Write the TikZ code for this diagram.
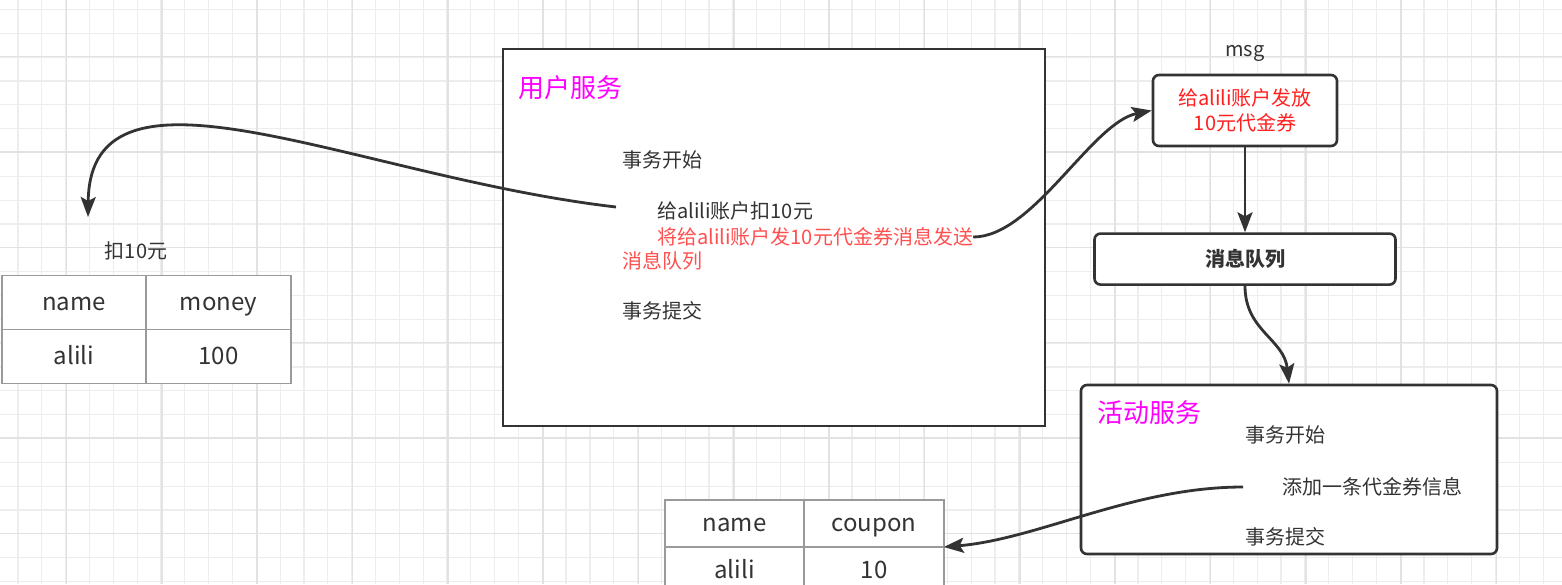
\documentclass[tikz,border=0pt]{standalone}
\usepackage{fontspec}
\setmainfont{Noto Sans CJK SC}
\usepackage{xcolor}
\usetikzlibrary{arrows.meta, positioning}
\definecolor{ink}{HTML}{333333}
\definecolor{gridminor}{HTML}{EDEDED}
\definecolor{gridmajor}{HTML}{E2E2E2}
\definecolor{tblline}{HTML}{9A9A9A}
\definecolor{svcpink}{HTML}{FF00FF}
\definecolor{notered}{HTML}{FF5050}
\definecolor{msgred}{HTML}{FF2020}
\tikzset{
    svcbox/.style={rectangle, draw=ink, line width=2.6pt, fill=white},
    roundbox/.style={rectangle, rounded corners=6pt, draw=ink, line width=2.6pt, fill=white},
    cell/.style={rectangle, draw=tblline, line width=1.8pt, fill=white, outer sep=0pt, inner sep=0pt, minimum width=144.5pt, minimum height=54pt, text height=20pt, text depth=5pt, text=ink, font=\fontsize{24}{28}\selectfont},
    txt/.style={inner sep=0pt, anchor=west, text=ink, font=\fontsize{20}{24}\selectfont},
    title/.style={txt, text=svcpink, font=\fontsize{26}{30}\selectfont},
    arrow/.style={-{Stealth[length=20pt, width=15pt, inset=4pt]}, line width=2.8pt, draw=ink}
}

\begin{document}
\begin{tikzpicture}[x=1pt, y=-1pt]
    \useasboundingbox (0,0) rectangle (1562,584);
    \fill[white] (0,0) rectangle (1562,584);
    % grid
    \foreach \gx in {18,41.83,...,1562} \draw[gridminor, line width=1.2pt] (\gx,0) -- (\gx,584);
    \foreach \gy in {9.5,33.33,...,584} \draw[gridminor, line width=1.2pt] (0,\gy) -- (1562,\gy);
    \foreach \gx in {66.5,161.83,...,1562} \draw[gridmajor, line width=1.4pt] (\gx,0) -- (\gx,584);
    \foreach \gy in {56.7,152.03,...,584} \draw[gridmajor, line width=1.4pt] (0,\gy) -- (1562,\gy);

    % user service
    \node[svcbox, minimum width=542pt, minimum height=377pt] (usersvc) at (774,237.5) {};
    \node[title] (usertitle) at (518,88) {用户服务};
    \node[txt] (ubegin) at (622,160) {事务开始};
    \node[txt] (deduct) at (657,211) {给alili账户扣10元};
    \node[txt, text=notered] (sendmsg) at (657,237) {将给alili账户发10元代金券消息发送};
    \node[txt, text=notered] (sendq) at (622,261) {消息队列};
    \node[txt] (ucommit) at (622,311) {事务提交};
    \coordinate (dstart) at (616,207);

    % money table
    \node[txt, anchor=center] (deductlbl) at (136,251) {扣10元};
    \coordinate (deducttip) at (88,217);
    \node[cell] (mname) at (74,302.5) {name};
    \node[cell, right=0pt of mname] (mmoney) {money};
    \node[cell, below=0pt of mname] (malili) {alili};
    \node[cell, below=0pt of mmoney] (mval) {100};

    % message and queue
    \node[roundbox, minimum width=184pt, minimum height=71pt, align=center, text=msgred, font=\fontsize{20}{25}\selectfont] (msgbox) at (1245,110.5) {给alili账户发放\\10元代金券};
    \node[txt, anchor=center, above=12pt of msgbox] (msglbl) {msg};
    \node[roundbox, minimum width=301pt, minimum height=51pt, text=ink, font=\fontsize{20}{24}\selectfont\bfseries, below=85pt of msgbox] (mq) {消息队列};

    % activity service
    \node[roundbox, minimum width=416pt, minimum height=169pt] (activity) at (1289,469.5) {};
    \node[title] (acttitle) at (1097,413) {活动服务};
    \node[txt] (abegin) at (1245,435) {事务开始};
    \node[txt] (addcoupon) at (1282,487) {添加一条代金券信息};
    \node[txt] (acommit) at (1245,537) {事务提交};
    \coordinate (astart) at (1243,487);

    % coupon table
    \node[cell, minimum width=139.5pt, minimum height=47pt] (cname) at (734.5,523.5) {name};
    \node[cell, minimum width=139.5pt, minimum height=47pt, right=0pt of cname] (ccoupon) {coupon};
    \node[cell, minimum width=139.5pt, minimum height=47pt, below=0pt of cname] (calili) {alili};
    \node[cell, minimum width=139.5pt, minimum height=47pt, below=0pt of ccoupon] (cval) {10};

    % connectors
    \draw[arrow] (dstart) .. controls +(-260,-30) and +(2,-176) .. (deducttip);
    \draw[arrow] (sendmsg.east) .. controls +(60,0) and +(-60,12) .. (msgbox.west);
    \draw[arrow] (msgbox) -- (mq);
    \draw[arrow] (mq.south) .. controls +(0,45) and +(-5,-45) .. (activity.north);
    \draw[arrow] (astart) .. controls +(-110,0) and +(95,-8) .. (ccoupon.south east);
\end{tikzpicture}
\end{document}
